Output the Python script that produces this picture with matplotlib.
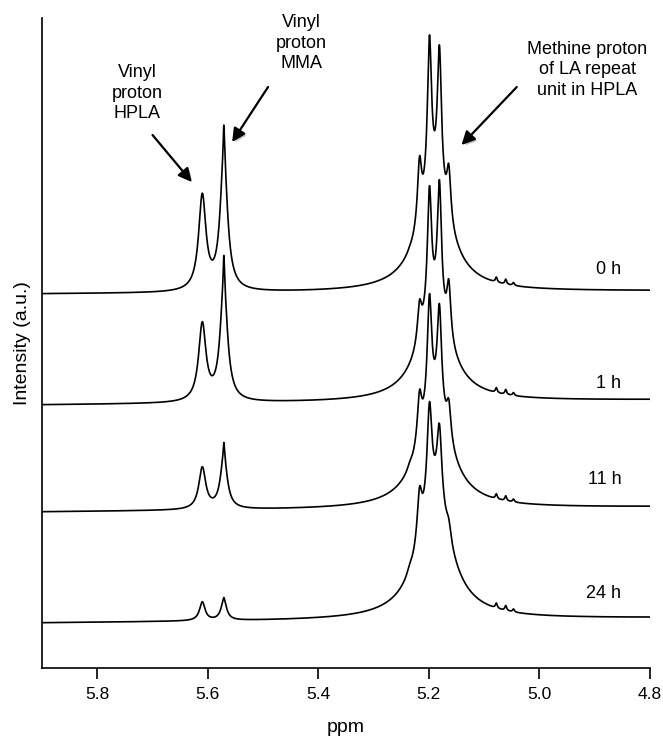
import numpy as np
import matplotlib.pyplot as plt
import matplotlib.patheffects as pe

plt.rcParams['font.family'] = ['Liberation Sans', 'DejaVu Sans']

# %% values (ppm; heights in axis units above each trace's baseline)
labels = ['0 h', '1 h', '11 h', '24 h']
base_left = [374, 263, 156, 45]     # baseline at 5.9 ppm
base_right = [377, 268, 161, 50]    # baseline at 4.8 ppm
label_y = [399, 285, 188, 75]

vinyl_ppm = [5.610, 5.571]          # HPLA, MMA
hpla_h = [100, 82, 44, 20]
mma_h = [137, 118, 54, 22]          # body of the MMA line
mma_spike = [31, 30, 14, 2]         # sharp tip on top of it
vinyl_w = [0.008, 0.008, 0.0075, 0.006]

meth_ppm = [5.235, 5.217, 5.199, 5.181, 5.164, 5.152]
meth_h = [[46, 136, 257, 247, 127, 50],
          [35, 102, 216, 222, 122, 50],
          [47, 119, 215, 205, 109, 50],
          [56, 133, 218, 196, 100, 55]]
meth_w = [0.0045, 0.0045, 0.0048, 0.0052]
hump_ppm = 5.19
hump_h = [100, 90, 100, 120]        # broad envelope under the methine multiplet
hump_w = 0.035

bump_ppm = [5.078, 5.061, 5.047]
bump_h = [5, 5, 3]

ticks = [5.8, 5.6, 5.4, 5.2, 5.0, 4.8]

# %%
def lor(x, c, w):
    return 1.0/(1.0+((x-c)/w)**2)

x = np.linspace(5.9, 4.8, 4000)

fig = plt.figure(figsize=(6.63, 7.39), dpi=100)
ax = fig.add_axes([42/663, 71/739, 608/663, 650/739])

for i, lab in enumerate(labels):
    cen = np.array(vinyl_ppm + meth_ppm)
    wid = np.array([vinyl_w[i]]*2 + [meth_w[i]]*len(meth_ppm))
    tgt = np.array([hpla_h[i], mma_h[i]] + meth_h[i], dtype=float)
    tgt = tgt - hump_h[i]*lor(cen, hump_ppm, hump_w)
    # amplitudes so the summed lines hit the read peak heights
    L = lor(cen[:, None], cen[None, :], wid[None, :])
    amp = np.clip(np.linalg.solve(L, tgt), 0, None)
    y = np.zeros_like(x)
    for c, w, a in zip(cen, wid, amp):
        y += a*lor(x, c, w)
    y += hump_h[i]*lor(x, hump_ppm, hump_w)
    y += mma_spike[i]*lor(x, vinyl_ppm[1], 0.0012)
    for c, h in zip(bump_ppm, bump_h):
        y += h*lor(x, c, 0.002)
    base = np.interp(x, [4.8, 5.9], [base_right[i], base_left[i]])
    ax.plot(x, y+base, color='k', lw=1.2)
    ax.text(4.852, label_y[i], lab, ha='right', va='center', fontsize=13)

shadow = [pe.SimplePatchShadow(offset=(1.5, -1.5), shadow_rgbFace='0.6', alpha=0.6), pe.Normal()]
arrows = [('Vinyl\nproton\nHPLA', (5.728, 575), (5.700, 533), (5.629, 486)),
          ('Vinyl\nproton\nMMA', (5.431, 625), (5.491, 581), (5.556, 526)),
          ('Methine proton\nof LA repeat\nunit in HPLA', (4.913, 598), (5.041, 581), (5.141, 523))]
for txt, tp, tail, tip in arrows:
    ax.text(tp[0], tp[1], txt, ha='center', va='center', fontsize=13, linespacing=1.3)
    ax.annotate('', xy=tip, xytext=tail,
                arrowprops=dict(arrowstyle='-|>', color='k', lw=1.6, mutation_scale=20,
                                shrinkA=0, shrinkB=0, path_effects=shadow))

ax.set_xlim(5.9, 4.8)
ax.set_ylim(0, 650)
ax.set_xticks(ticks)
ax.set_xticklabels(['%.1f' % t for t in ticks], fontsize=12.5)
ax.set_yticks([])
ax.tick_params(axis='x', direction='out', length=8, width=1.2, pad=6)
for s in ['top', 'right']:
    ax.spines[s].set_visible(False)
for s in ['left', 'bottom']:
    ax.spines[s].set_linewidth(1.2)
ax.set_xlabel('ppm', fontsize=14, labelpad=12)
ax.set_ylabel('Intensity (a.u.)', fontsize=14, labelpad=8)

fig.savefig('out.png', dpi=100)
